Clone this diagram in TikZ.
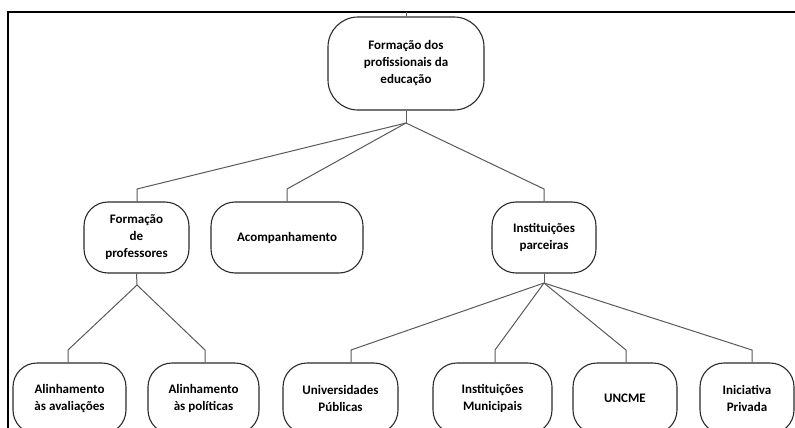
\documentclass[tikz,border=0pt]{standalone}
\usepackage{fontspec}
\setmainfont{Carlito}
\definecolor{boxline}{HTML}{2B2B2B}
\definecolor{conline}{HTML}{5A5A5A}
\begin{document}
\begin{tikzpicture}[x=1pt,y=-1pt,
  box/.style={draw=boxline,line width=1.1pt,rounded corners=24pt,align=center,inner sep=0pt,
    font=\fontsize{13}{17}\selectfont\bfseries,text=black},
  con/.style={draw=conline,line width=1pt},
  frame/.style={draw=black,line width=2pt}]
\useasboundingbox (0,0) rectangle (795,428);
\fill[white] (0,0) rectangle (795,428);
\draw[frame] (8,440) -- (8,12) -- (800,12);
\coordinate (ftop) at (406,12);
% nodes
\node[box,minimum width=156pt,minimum height=93pt,rounded corners=30pt] (top) at (406,63.5) {Formação dos\\profissionais da\\educação};
\node[box,minimum width=105pt,minimum height=71pt] (fp) at (136.5,237.5) {Formação\\de\\professores};
\node[box,minimum width=152pt,minimum height=71pt] (ac) at (287,237.5) {Acompanhamento};
\node[box,minimum width=104pt,minimum height=71pt] (ip) at (544,237.5) {Instituições\\parceiras};
\node[box,minimum width=113pt,minimum height=71pt] (a1) at (69.5,398.5) {Alinhamento\\às avaliações};
\node[box,minimum width=111pt,minimum height=71pt] (a2) at (203.5,398.5) {Alinhamento\\às políticas};
\node[box,minimum width=115pt,minimum height=71pt] (up) at (340.5,398.5) {Universidades\\Públicas};
\node[box,minimum width=119pt,minimum height=71pt] (im) at (492.5,398.5) {Instituições\\Municipais};
\node[box,minimum width=104pt,minimum height=71pt] (un) at (625,398.5) {UNCME};
\node[box,minimum width=94pt,minimum height=71pt] (pr) at (747,398.5) {Iniciativa\\Privada};
% branch points and bends
\coordinate (b0) at (406,123);
\coordinate (k-fp) at (137,189);
\coordinate (k-ac) at (287,189);
\coordinate (k-ip) at (544,189);
\coordinate (b1) at (137,285);
\coordinate (b2) at (544,283);
\coordinate (k-a1) at (68,350);
\coordinate (k-a2) at (205,350);
\coordinate (k-up) at (351,350);
\coordinate (k-im) at (495,350);
\coordinate (k-un) at (626,350);
\coordinate (k-pr) at (752,350);
% connectors
\draw[con] (ftop) -- (top.north);
\draw[con] (top.south) -- (b0);
\draw[con] (b0) -- (k-fp) -- (k-fp |- fp.north);
\draw[con] (b0) -- (k-ac) -- (k-ac |- ac.north);
\draw[con] (b0) -- (k-ip) -- (k-ip |- ip.north);
\draw[con] (fp.south) -- (b1);
\draw[con] (b1) -- (k-a1) -- (k-a1 |- a1.north);
\draw[con] (b1) -- (k-a2) -- (k-a2 |- a2.north);
\draw[con] (ip.south) -- (b2);
\draw[con] (b2) -- (k-up) -- (k-up |- up.north);
\draw[con] (b2) -- (k-im) -- (k-im |- im.north);
\draw[con] (b2) -- (k-un) -- (k-un |- un.north);
\draw[con] (b2) -- (k-pr) -- (k-pr |- pr.north);
\end{tikzpicture}
\end{document}
